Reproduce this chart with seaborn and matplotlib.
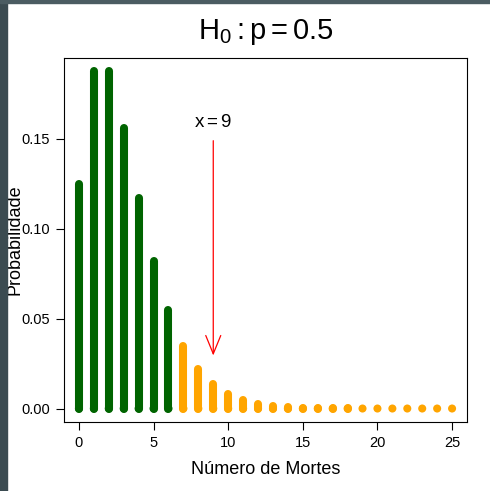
import matplotlib
matplotlib.use("Agg")
import matplotlib.pyplot as plt
import seaborn as sns
import numpy as np
import pandas as pd
from matplotlib.patches import Rectangle

# ---- data ----
deaths = list(range(0, 26))
prob = [0.125, 0.1875, 0.1875, 0.156, 0.117, 0.082, 0.055, 0.035, 0.022, 0.0134,
        0.0081, 0.0047, 0.0027, 0.0015, 0.0008, 0.0005, 0.0003, 0.0001, 0.0001, 0.0,
        0.0, 0.0, 0.0, 0.0, 0.0, 0.0]
cutoff = 7          # values >= cutoff drawn in orange
observed = 9
title = r"$\mathrm{H_0 : p = 0.5}$"
xlabel = "Número de Mortes"
ylabel = "Probabilidade"
xticks = [0, 5, 10, 15, 20, 25]
yticks = [0.00, 0.05, 0.10, 0.15]
ytick_labels = ["0.00", "0.05", "0.10", "0.15"]

sns.set_theme(style="ticks")
plt.rcParams["font.family"] = ["Liberation Sans", "DejaVu Sans"]
plt.rcParams["mathtext.fontset"] = "custom"
plt.rcParams["mathtext.rm"] = "Liberation Sans"
plt.rcParams["mathtext.it"] = "Liberation Sans"

fig = plt.figure(figsize=(4.9, 4.91), dpi=100)
fig.patch.set_facecolor("white")
ax = fig.add_axes([64/490, 1-422/491, (467-64)/490, (422-58)/491])

GREEN, ORANGE = "#006400", "#FFA500"
df = pd.DataFrame({"x": deaths, "p": prob})
df["grp"] = np.where(df["x"] < cutoff, "a", "b")
palette = {"a": GREEN, "b": ORANGE}

lw = 5.8
for xi, yi, g in zip(df["x"], df["p"], df["grp"]):
    if yi > 0:
        ax.vlines(xi, 0, yi, colors=palette[g], linewidth=lw, capstyle="round", zorder=2)
# round end points (visible even for zero-height bars)
sns.scatterplot(data=df, x="x", y=np.zeros(len(df)), hue="grp", palette=palette,
                s=(lw) ** 2, linewidth=0, marker="o", legend=False, ax=ax, zorder=3)

ax.set_xlim(-1, 26)
ax.set_ylim(-0.0075, 0.195)
ax.set_xticks(xticks)
ax.set_yticks(yticks)
ax.set_yticklabels(ytick_labels)
ax.tick_params(axis="both", direction="out", length=6, width=0.8, color="black",
               labelsize=10.5, labelcolor="black", pad=4)
for s in ax.spines.values():
    s.set_visible(True)
    s.set_color("black")
    s.set_linewidth(0.8)

ax.set_xlabel(xlabel, fontsize=13, color="black", labelpad=8)
ax.set_ylabel(ylabel, fontsize=13, color="black", va="center")
ax.yaxis.set_label_coords((15-64)/403, 0.5)

fig.text(265.5/490, 1-32/491, title, ha="center", va="center", fontsize=21, color="black")

# arrow to observed value
ax.annotate("", xy=(observed, 0.0295), xytext=(observed, 0.149),
            arrowprops=dict(arrowstyle="->,head_length=1.1,head_width=0.45",
                            color="red", lw=0.9, shrinkA=0, shrinkB=0))
ax.text(observed, 0.159, r"$\mathrm{x = 9}$", ha="center", va="center",
        fontsize=13.5, color="black")

# dark frame strips
fig.patches.append(Rectangle((0, 0), 7/490, 1, transform=fig.transFigure,
                             color="#3b4b51", zorder=10))
fig.patches.append(Rectangle((0, 1-3/491), 1, 3/491, transform=fig.transFigure,
                             color="#4b5c62", zorder=10))

fig.savefig("out.png", dpi=100)
